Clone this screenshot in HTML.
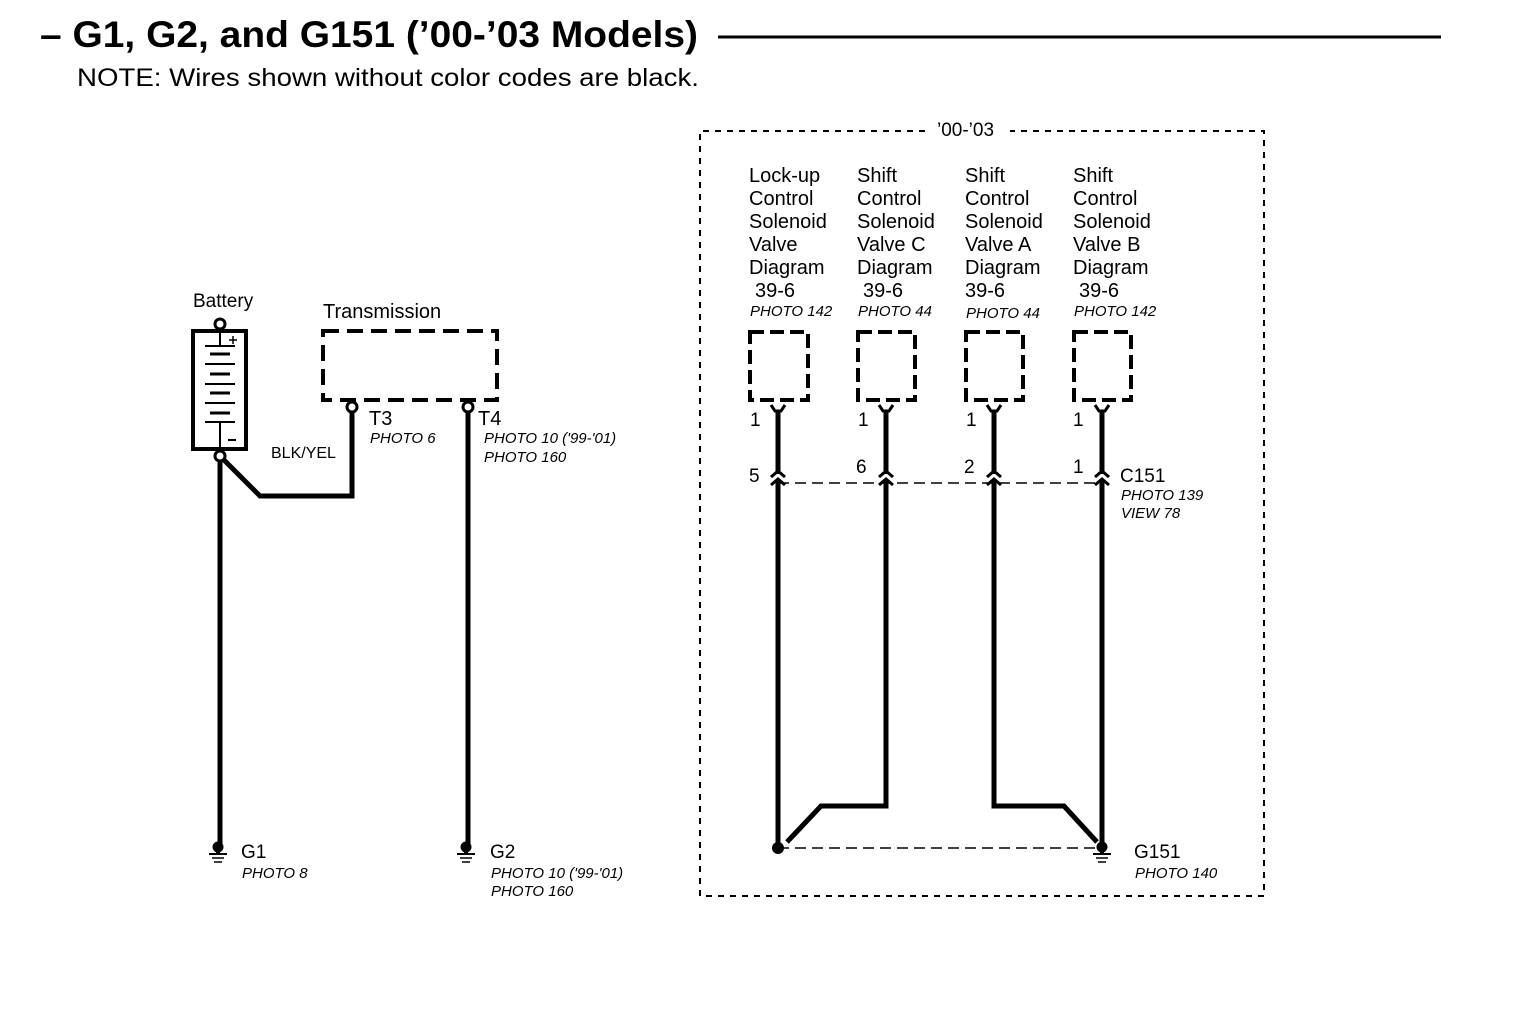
<!DOCTYPE html>
<html><head><meta charset="utf-8"><style>
html,body{margin:0;padding:0;background:#fff;}
svg{display:block;}
text{font-family:"Liberation Sans",sans-serif;fill:#000;}
.it{font-style:italic;font-size:15px;}
</style></head><body>
<svg width="1520" height="1022" viewBox="0 0 1520 1022" xmlns="http://www.w3.org/2000/svg">
<text x="40" y="47" font-size="37" font-weight="bold" textLength="658" lengthAdjust="spacingAndGlyphs">– G1, G2, and G151 (’00-’03 Models)</text>
<line x1="718" y1="37" x2="1441" y2="37" stroke="#000" stroke-width="3"/>
<text x="77" y="86" font-size="25" textLength="622" lengthAdjust="spacingAndGlyphs">NOTE: Wires shown without color codes are black.</text>

<path d="M925 131 H700 V896 H1264 V131 H1010" fill="none" stroke="#000" stroke-width="2" stroke-dasharray="6,6"/>
<text x="937" y="136" font-size="19">’00-’03</text>

<text x="193" y="307" font-size="19">Battery</text>
<circle cx="220" cy="324" r="5" fill="#fff" stroke="#000" stroke-width="3"/>
<rect x="193" y="331" width="53" height="118" fill="none" stroke="#000" stroke-width="4"/>
<g stroke="#000">
<line x1="220" y1="331" x2="220" y2="345" stroke-width="2"/>
<line x1="205" y1="346" x2="235" y2="346" stroke-width="2"/>
<line x1="210" y1="354" x2="230" y2="354" stroke-width="3"/>
<line x1="205" y1="364" x2="235" y2="364" stroke-width="2"/>
<line x1="210" y1="374" x2="230" y2="374" stroke-width="3"/>
<line x1="205" y1="384" x2="235" y2="384" stroke-width="2"/>
<line x1="210" y1="393" x2="230" y2="393" stroke-width="3"/>
<line x1="205" y1="403" x2="235" y2="403" stroke-width="2"/>
<line x1="210" y1="413" x2="230" y2="413" stroke-width="3"/>
<line x1="205" y1="422" x2="235" y2="422" stroke-width="2"/>
<line x1="220" y1="422" x2="220" y2="448" stroke-width="2"/>
<line x1="229" y1="340" x2="237" y2="340" stroke-width="1.5"/>
<line x1="233" y1="336" x2="233" y2="344" stroke-width="1.5"/>
<line x1="228" y1="440" x2="236" y2="440" stroke-width="2"/>
</g>
<circle cx="220" cy="456" r="5" fill="#fff" stroke="#000" stroke-width="3"/>
<line x1="220" y1="461" x2="220" y2="845" stroke="#000" stroke-width="5"/>
<polyline points="223,459 260,496 352,496 352,412" fill="none" stroke="#000" stroke-width="5"/>
<text x="271" y="458" font-size="16">BLK/YEL</text>

<text x="323" y="318" font-size="20">Transmission</text>
<rect x="323" y="331" width="174" height="69" fill="none" stroke="#000" stroke-width="4" stroke-dasharray="16,8"/>
<circle cx="352" cy="407" r="5" fill="#fff" stroke="#000" stroke-width="3"/>
<circle cx="468" cy="407" r="5" fill="#fff" stroke="#000" stroke-width="3"/>
<line x1="468" y1="412" x2="468" y2="845" stroke="#000" stroke-width="5"/>
<text x="369" y="425" font-size="20">T3</text>
<text x="370" y="443" class="it">PHOTO 6</text>
<text x="478" y="425" font-size="20">T4</text>
<text x="484" y="443" class="it">PHOTO 10 ('99-'01)</text>
<text x="484" y="462" class="it">PHOTO 160</text>

<g stroke="#000" fill="#000">
<circle cx="218" cy="847" r="5"/><line x1="218" y1="847" x2="218" y2="853" stroke-width="4"/>
<line x1="209" y1="854" x2="227" y2="854" stroke-width="2"/><line x1="212" y1="858" x2="224" y2="858" stroke-width="1.5"/><line x1="214" y1="862" x2="222" y2="862" stroke-width="1.5"/>
<circle cx="466" cy="847" r="5"/><line x1="466" y1="847" x2="466" y2="853" stroke-width="4"/>
<line x1="457" y1="854" x2="475" y2="854" stroke-width="2"/><line x1="460" y1="858" x2="472" y2="858" stroke-width="1.5"/><line x1="462" y1="862" x2="470" y2="862" stroke-width="1.5"/>
<circle cx="1102" cy="847" r="5"/><line x1="1102" y1="847" x2="1102" y2="853" stroke-width="4"/>
<line x1="1093" y1="854" x2="1111" y2="854" stroke-width="2"/><line x1="1096" y1="858" x2="1108" y2="858" stroke-width="1.5"/><line x1="1098" y1="862" x2="1106" y2="862" stroke-width="1.5"/>
</g>
<text x="241" y="858" font-size="19">G1</text>
<text x="242" y="878" class="it">PHOTO 8</text>
<text x="490" y="858" font-size="19">G2</text>
<text x="491" y="878" class="it">PHOTO 10 ('99-'01)</text>
<text x="491" y="896" class="it">PHOTO 160</text>
<text x="1134" y="858" font-size="19">G151</text>
<text x="1135" y="878" class="it">PHOTO 140</text>

<g>
<text x="749" y="182" font-size="20">Lock-up</text><text x="749" y="205" font-size="20">Control</text><text x="749" y="228" font-size="20">Solenoid</text><text x="749" y="251" font-size="20">Valve</text><text x="749" y="274" font-size="20">Diagram</text><text x="755" y="297" font-size="20">39-6</text>
<text x="857" y="182" font-size="20">Shift</text><text x="857" y="205" font-size="20">Control</text><text x="857" y="228" font-size="20">Solenoid</text><text x="857" y="251" font-size="20">Valve C</text><text x="857" y="274" font-size="20">Diagram</text><text x="863" y="297" font-size="20">39-6</text>
<text x="965" y="182" font-size="20">Shift</text><text x="965" y="205" font-size="20">Control</text><text x="965" y="228" font-size="20">Solenoid</text><text x="965" y="251" font-size="20">Valve A</text><text x="965" y="274" font-size="20">Diagram</text><text x="965" y="297" font-size="20">39-6</text>
<text x="1073" y="182" font-size="20">Shift</text><text x="1073" y="205" font-size="20">Control</text><text x="1073" y="228" font-size="20">Solenoid</text><text x="1073" y="251" font-size="20">Valve B</text><text x="1073" y="274" font-size="20">Diagram</text><text x="1079" y="297" font-size="20">39-6</text>
</g>
<text x="750" y="316" class="it">PHOTO 142</text>
<text x="858" y="316" class="it">PHOTO 44</text>
<text x="966" y="318" class="it">PHOTO 44</text>
<text x="1074" y="316" class="it">PHOTO 142</text>

<g fill="none" stroke="#000" stroke-width="4" stroke-dasharray="14,6">
<rect x="750" y="332" width="58" height="68"/>
<rect x="858" y="332" width="57" height="68"/>
<rect x="966" y="332" width="57" height="68"/>
<rect x="1074" y="332" width="57" height="68"/>
</g>

<line x1="778" y1="483" x2="1102" y2="483" stroke="#000" stroke-width="1.5" stroke-dasharray="11,6"/>

<g stroke="#000" fill="none">
<g id="c1">
<path d="M771 405 L775 411 H781 L785 405" stroke-width="3"/>
<line x1="778" y1="410" x2="778" y2="474" stroke-width="5"/>
<path d="M771 477 L778 471 L785 477" stroke-width="3"/>
<path d="M771 485 L778 479 L785 485" stroke-width="3"/>
</g>
<use href="#c1" x="108"/>
<use href="#c1" x="216"/>
<use href="#c1" x="324"/>
<polyline points="778,480 778,845" stroke-width="5"/>
<polyline points="886,480 886,806 821,806 787,842" stroke-width="5"/>
<polyline points="994,480 994,806 1064,806 1097,842" stroke-width="5"/>
<polyline points="1102,480 1102,845" stroke-width="5"/>
<line x1="778" y1="848" x2="1098" y2="848" stroke-width="1.5" stroke-dasharray="11,6"/>
</g>
<circle cx="778" cy="848" r="6" fill="#000"/>

<g font-size="19">
<text x="750" y="426">1</text><text x="858" y="426">1</text><text x="966" y="426">1</text><text x="1073" y="426">1</text>
<text x="749" y="482">5</text><text x="856" y="473">6</text><text x="964" y="473">2</text><text x="1073" y="473">1</text>
<text x="1120" y="482">C151</text>
</g>
<text x="1121" y="500" class="it">PHOTO 139</text>
<text x="1121" y="518" class="it">VIEW 78</text>
</svg>
</body></html>
